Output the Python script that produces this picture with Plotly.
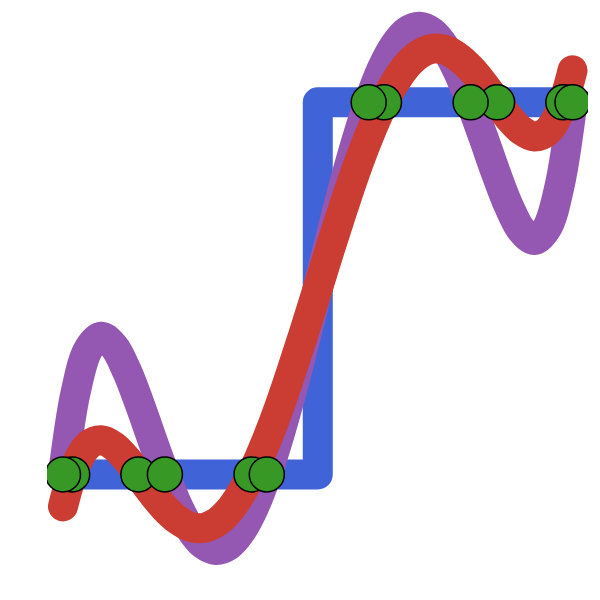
import plotly.graph_objects as go
from plotly.graph_objs import Scatter, Figure

# nodes at integer positions and the shifted nodes
x_nodes = [0, 1, 2, 3, 4, 5]
y_nodes = [0, 0, 0, 1, 1, 1]
x_shifted = [0.09, 0.74, 1.85, 3.15, 4.26, 4.91]
y_shifted = [0, 0, 0, 1, 1, 1]

x_curve = [0, 0.125, 0.25, 0.375, 0.5, 0.625, 0.75, 0.875, 1, 1.125, 1.25, 1.375,
           1.5, 1.625, 1.75, 1.875, 2, 2.125, 2.25, 2.375, 2.5,
           2.625, 2.75, 2.875, 3, 3.125, 3.25, 3.375, 3.5, 3.625, 3.75, 3.875,
           4, 4.125, 4.25, 4.375, 4.5, 4.625, 4.75, 4.875, 5]
y_purple = [0, 0.222, 0.337, 0.370, 0.344, 0.279, 0.191, 0.094, 0, -0.083, -0.147, -0.188,
            -0.203, -0.191, -0.152, -0.088, 0, 0.107, 0.229, 0.362, 0.5,
            0.638, 0.771, 0.893, 1, 1.088, 1.152, 1.191, 1.203, 1.188, 1.147, 1.083,
            1, 0.906, 0.809, 0.721, 0.656, 0.630, 0.663, 0.778, 1]
y_red = [-0.086, 0.025, 0.079, 0.092, 0.076, 0.041, -0.004, -0.050, -0.091, -0.122, -0.141, -0.144,
         -0.130, -0.099, -0.050, 0.014, 0.093, 0.183, 0.284, 0.390, 0.5,
         0.610, 0.716, 0.817, 0.907, 0.986, 1.050, 1.099, 1.130, 1.144, 1.141, 1.122,
         1.091, 1.050, 1.004, 0.959, 0.924, 0.908, 0.921, 0.975, 1.086]

# the step through the nodes
trace1 = Scatter(x=x_nodes,
                 y=y_nodes,
                 mode='lines',
                 line=dict(width=30, color='#4063D8', shape='hvh'),
                 hoverinfo='none',
                 )

trace2 = Scatter(x=x_curve,
                 y=y_purple,
                 mode='lines',
                 line=dict(width=30, color='#9558B2', shape='spline'),
                 )

trace3 = Scatter(x=x_curve,
                 y=y_red,
                 mode='lines',
                 line=dict(width=30, color='#CB3C33', shape='spline'),
                 )

# shifted nodes go under the integer ones
trace4 = Scatter(x=x_shifted,
                 y=y_shifted,
                 mode='markers',
                 marker=dict(size=35, color='#389826',
                             line=dict(width=1.5, color='black')),
                 )

trace5 = Scatter(x=x_nodes,
                 y=y_nodes,
                 mode='markers',
                 marker=dict(size=35, color='#389826',
                             line=dict(width=1.5, color='black')),
                 )

fig = Figure(data=[trace1, trace2, trace3, trace4, trace5])
fig.update_layout(width=600, height=600,
                  showlegend=False,
                  plot_bgcolor='white',
                  paper_bgcolor='white',
                  margin=dict(l=39, r=20, t=0, b=0))
fig.update_xaxes(range=[-0.157, 5.152], showgrid=False, zeroline=False, visible=False)
fig.update_yaxes(range=[-0.359, 1.2535], showgrid=False, zeroline=False, visible=False)

# rounded ends and corners on the thick lines
round_caps = ("var s = document.createElement('style');"
              "s.innerHTML = '.js-line {stroke-linecap: round !important;"
              " stroke-linejoin: round !important;}';"
              "document.head.appendChild(s);")

fig.write_html("out.html", post_script=round_caps)
